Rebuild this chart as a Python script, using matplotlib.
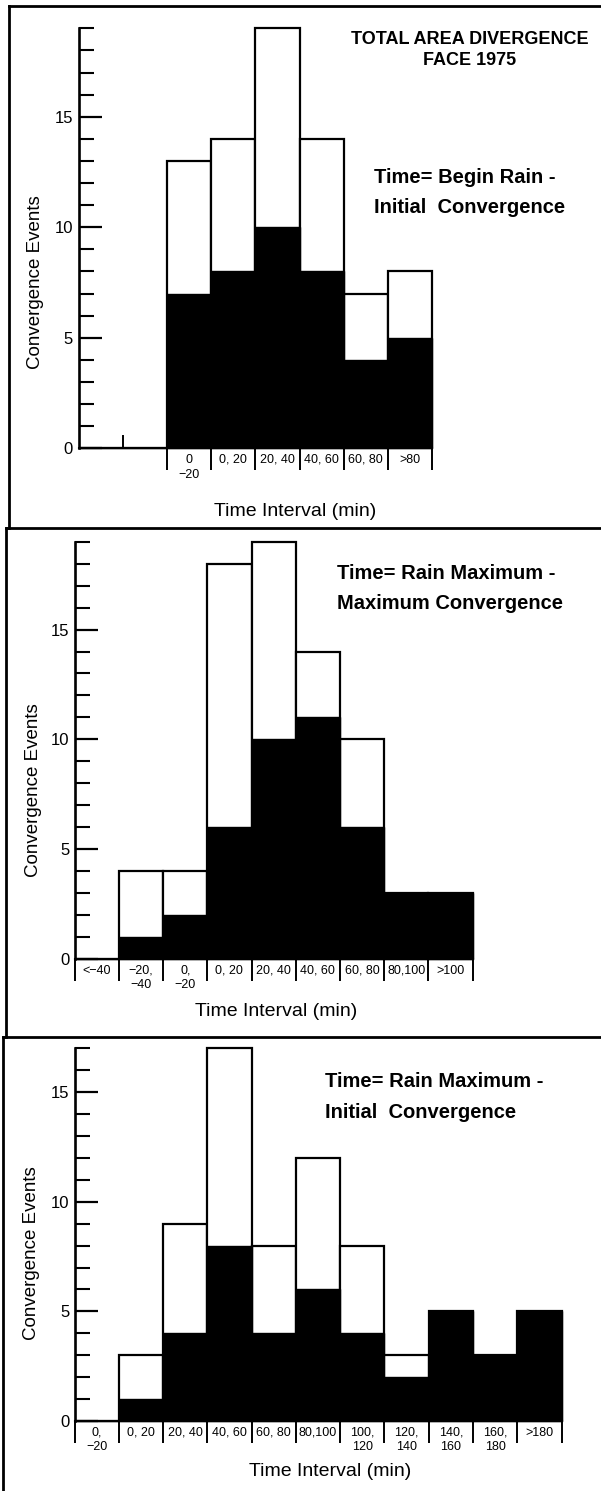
import matplotlib
matplotlib.use('Agg')
import matplotlib.pyplot as plt
from matplotlib.lines import Line2D
import numpy as np

plt.rcParams['font.family'] = ['Liberation Sans', 'DejaVu Sans']

# ---------------- data ----------------
p1_labels = ["", "", "0\n\u221220", "0, 20", "20, 40", "40, 60", "60, 80", ">80"]
p1_total = [0, 0, 13, 14, 19, 14, 7, 8]
p1_black = [0, 0, 7, 8, 10, 8, 4, 5]

p2_labels = ["<\u221240", "\u221220,\n\u221240", "0,\n\u221220", "0, 20", "20, 40",
             "40, 60", "60, 80", "80,100", ">100"]
p2_total = [0, 4, 4, 18, 19, 14, 10, 3, 3]
p2_black = [0, 1, 2, 6, 10, 11, 6, 3, 3]

p3_labels = ["0,\n\u221220", "0, 20", "20, 40", "40, 60", "60, 80", "80,100",
             "100,\n120", "120,\n140", "140,\n160", "160,\n180", ">180"]
p3_total = [0, 3, 9, 17, 8, 12, 8, 3, 5, 3, 5]
p3_black = [0, 1, 4, 8, 4, 6, 4, 2, 5, 3, 5]

y_major = [0, 5, 10, 15]

W, H = 601, 1491
fig = plt.figure(figsize=(W / 100, H / 100), dpi=100)


def fx(x):
    return x / W


def fy(y):
    return 1 - y / H


panels = [
    dict(labels=p1_labels, total=p1_total, black=p1_black, ymax=19,
         x0=78.5, x1=432.1, y0=448.3, ytop=28.3, first_edge=2,
         ann=("Time= Begin Rain -", "Initial  Convergence"), ann_x=373.7,
         ann_y=(183.3, 213.3), xl=(295, 516), yl=(35.5, 281.7)),
    dict(labels=p2_labels, total=p2_total, black=p2_black, ymax=19,
         x0=74.7, x1=472.5, y0=959.0, ytop=541.7, first_edge=0,
         ann=("Time= Rain Maximum -", "Maximum Convergence"), ann_x=337.3,
         ann_y=(579.3, 609.3), xl=(276, 1016), yl=(33.5, 790)),
    dict(labels=p3_labels, total=p3_total, black=p3_black, ymax=17,
         x0=74.7, x1=561.5, y0=1421.0, ytop=1048.3, first_edge=0,
         ann=("Time= Rain Maximum -", "Initial  Convergence"), ann_x=325.0,
         ann_y=(1086.7, 1118.3), xl=(330.6, 1476), yl=(31.5, 1253)),
]

tick_family = ['Liberation Sans', 'DejaVu Sans']

for i, p in enumerate(panels):
    n = len(p['labels'])
    ax = fig.add_axes([fx(p['x0']), fy(p['y0']),
                       (p['x1'] - p['x0']) / W, (p['y0'] - p['ytop']) / H])
    centers = np.arange(n) + 0.5
    ax.bar(centers, p['total'], width=1.0, facecolor='white', edgecolor='black',
           linewidth=1.6, clip_on=False, zorder=2)
    ax.bar(centers, p['black'], width=1.0, facecolor='black', edgecolor='black',
           linewidth=1.0, clip_on=False, zorder=3)
    ax.set_xlim(0, n)
    ax.set_ylim(0, p['ymax'])
    for s in ('top', 'right'):
        ax.spines[s].set_visible(False)
    ax.spines['left'].set_linewidth(1.9)
    ax.spines['bottom'].set_linewidth(1.5)

    # y axis ticks
    ax.set_yticks(y_major)
    ax.set_yticks(np.arange(0, p['ymax'] + 1), minor=True)
    ax.tick_params(axis='y', which='major', direction='in', length=16.5, width=1.6,
                   labelsize=12, pad=4)
    ax.tick_params(axis='y', which='minor', direction='in', length=10.5, width=1.5)

    # x axis: separators at bin edges, labels at centres
    ax.set_xticks(np.arange(p['first_edge'], n + 1))
    ax.set_xticklabels([])
    ax.set_xticks(centers, p['labels'], minor=True, fontsize=9,
                  family=tick_family, linespacing=1.3)
    ax.tick_params(axis='x', which='major', direction='out', length=16, width=1.4)
    ax.tick_params(axis='x', which='minor', length=0, pad=4)

    if i == 0:
        ax.axvline(1, 0, 12 / (p['y0'] - p['ytop']), color='black', lw=1.4)

    fig.text(fx(p['ann_x']), fy(p['ann_y'][0]), p['ann'][0], fontsize=14.5,
             fontweight='bold', ha='left', va='baseline')
    fig.text(fx(p['ann_x']), fy(p['ann_y'][1]), p['ann'][1], fontsize=14.5,
             fontweight='bold', ha='left', va='baseline')
    fig.text(fx(p['xl'][0]), fy(p['xl'][1]), "Time Interval (min)", fontsize=14,
             ha='center', va='baseline')
    fig.text(fx(p['yl'][0]), fy(p['yl'][1]), "Convergence Events", fontsize=13.5,
             ha='center', va='center', rotation=90)

# title
fig.text(fx(470), fy(44), "TOTAL AREA DIVERGENCE", fontsize=13, fontweight='bold',
         ha='center', va='baseline')
fig.text(fx(470), fy(65), "FACE 1975", fontsize=13, fontweight='bold',
         ha='center', va='baseline')

# panel frames
frame = [((9, 601), (6, 6)), ((9, 9), (6, 528)),
         ((6, 601), (528, 528)), ((6, 6), (528, 1037)),
         ((3, 601), (1037, 1037)), ((3, 3), (1037, 1491))]
for (xa, xb), (ya, yb) in frame:
    fig.add_artist(Line2D([fx(xa), fx(xb)], [fy(ya), fy(yb)], color='black',
                          lw=2.0, transform=fig.transFigure))

fig.savefig('out.png', dpi=100)
